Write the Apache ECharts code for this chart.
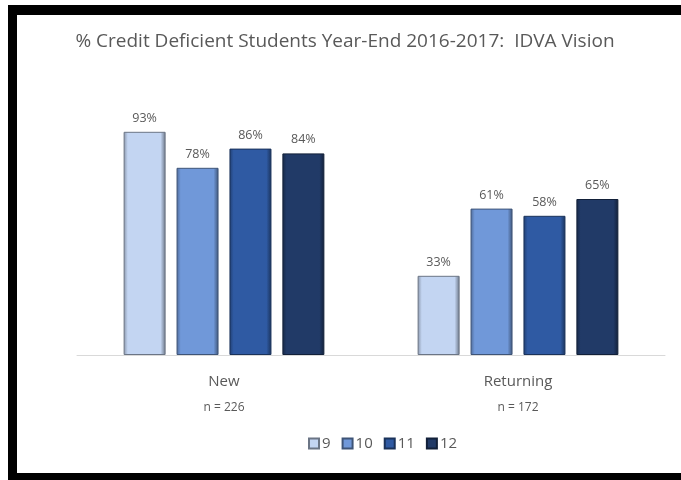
<!DOCTYPE html>
<html>
<head>
<meta charset="utf-8">
<script src="https://cdn.jsdelivr.net/npm/echarts@6/dist/echarts.min.js"></script>
<style>
html,body{margin:0;padding:0;background:#fff;}
#c{width:681px;height:480px;}
</style>
</head>
<body>
<div id="c"></div>
<script>
const titleText = '% Credit Deficient Students Year-End 2016-2017:  IDVA Vision';
const categories = ['New', 'Returning'];
const groupN = ['n = 226', 'n = 172'];
const seriesNames = ['9', '10', '11', '12'];
const grade9 = [93, 33];
const grade10 = [78, 61];
const grade11 = [86, 58];
const grade12 = [84, 65];
const colors = ['#c3d5f2', '#7098d9', '#2f5aa3', '#213a67'];

const values = [grade9, grade10, grade11, grade12];
function shade(hex, f) {
  const n = parseInt(hex.slice(1), 16);
  let r = (n >> 16) & 255, g = (n >> 8) & 255, b = n & 255;
  if (f < 0) { r = Math.round(r * (1 + f)); g = Math.round(g * (1 + f)); b = Math.round(b * (1 + f)); }
  else { r = Math.round(r + (255 - r) * f); g = Math.round(g + (255 - g) * f); b = Math.round(b + (255 - b) * f); }
  return 'rgb(' + r + ',' + g + ',' + b + ')';
}
function grad(c) {
  return new echarts.graphic.LinearGradient(0, 0, 1, 0, [
    {offset: 0, color: shade(c, -0.3)},
    {offset: 0.1, color: c},
    {offset: 0.88, color: c},
    {offset: 1, color: shade(c, -0.45)}
  ]);
}
const series = seriesNames.map((name, i) => ({
  name: name,
  type: 'bar',
  data: values[i],
  barWidth: 42,
  barGap: '26%',
  itemStyle: {color: grad(colors[i]), borderColor: shade(colors[i], -0.45), borderWidth: 1},
  label: {
    show: true, position: 'top', distance: 7,
    formatter: '{c}%', color: '#595959', fontSize: 12.5, fontFamily: 'Open Sans'
  }
}));

const chart = echarts.init(document.getElementById('c'), null, {renderer: 'canvas'});
chart.setOption({
  animation: false,
  color: colors,
  title: {
    text: titleText, left: 340, top: 27, textAlign: 'center',
    textStyle: {color: '#595959', fontSize: 19, fontWeight: 'normal', fontFamily: 'Open Sans'}
  },
  grid: {left: 77, right: 16, top: 115, bottom: 125},
  legend: {
    data: seriesNames, left: 303, top: 431, itemWidth: 10, itemHeight: 10, itemGap: 11,
    icon: 'rect',
    textStyle: {color: '#595959', fontSize: 15, fontFamily: 'Open Sans', padding: [0, 0, 0, -2]}
  },
  xAxis: {
    type: 'category', data: categories,
    axisLine: {lineStyle: {color: '#d9d9d9', width: 1}},
    axisTick: {show: false},
    axisLabel: {
      margin: 14,
      formatter: function (v, idx) { return '{a|' + v + '}\n{b|' + groupN[idx] + '}'; },
      rich: {
        a: {color: '#595959', fontSize: 15, fontFamily: 'Open Sans', lineHeight: 26},
        b: {color: '#595959', fontSize: 12, fontFamily: 'Open Sans', lineHeight: 26}
      }
    }
  },
  yAxis: {type: 'value', min: 0, max: 100, show: false, splitLine: {show: false}},
  series: series,
  graphic: [
    {type: 'rect', left: 8, top: 5, shape: {width: 673, height: 10}, style: {fill: '#000'}, z: 100},
    {type: 'rect', left: 8, top: 5, shape: {width: 9, height: 475}, style: {fill: '#000'}, z: 100},
    {type: 'rect', left: 8, top: 473, shape: {width: 673, height: 7}, style: {fill: '#000'}, z: 100}
  ]
});
</script>
</body>
</html>
